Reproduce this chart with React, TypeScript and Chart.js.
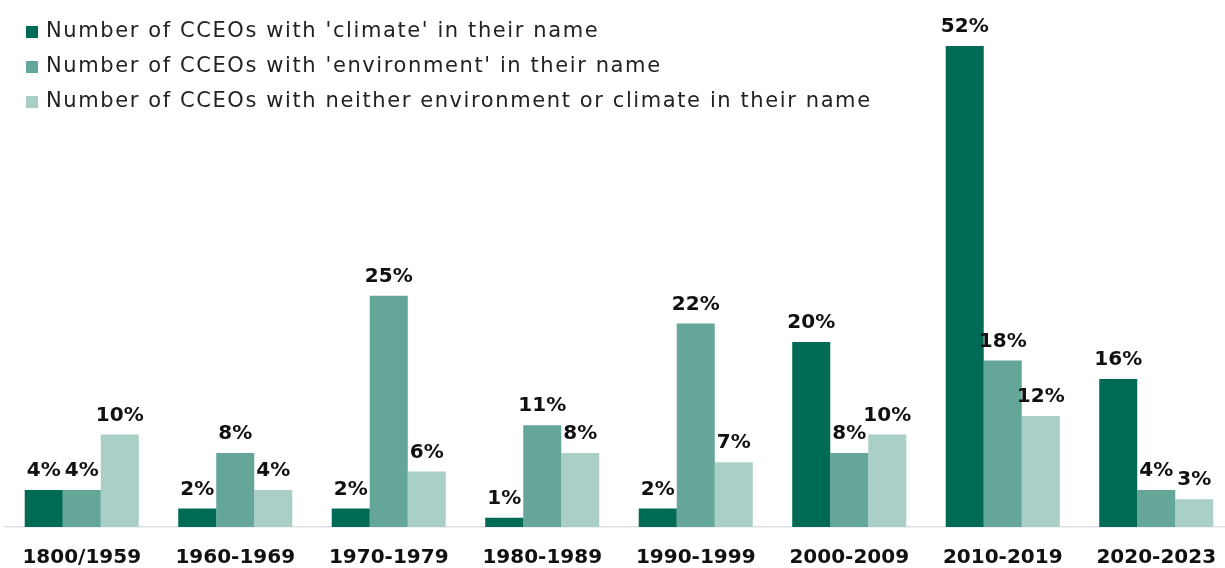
import React, { useEffect, useRef } from "react";
import { Chart, registerables } from "chart.js";

Chart.register(...registerables);

const periods = [
  "1800/1959",
  "1960-1969",
  "1970-1979",
  "1980-1989",
  "1990-1999",
  "2000-2009",
  "2010-2019",
  "2020-2023",
];

const climateShare = [4, 2, 2, 1, 2, 20, 52, 16];
const environmentShare = [4, 8, 25, 11, 22, 8, 18, 4];
const neitherShare = [10, 4, 6, 8, 7, 10, 12, 3];

const seriesNames = [
  "Number of CCEOs with 'climate' in their name",
  "Number of CCEOs with 'environment' in their name",
  "Number of CCEOs with neither environment or climate in their name",
];

const seriesColors = ["#006b54", "#64a698", "#a9cfc6"];

const FONT = "'DejaVu Sans', sans-serif";

// Percent labels above each bar
const valueLabels = {
  id: "valueLabels",
  afterDatasetsDraw(chart: any) {
    const ctx = chart.ctx;
    ctx.save();
    ctx.font = `bold 20px ${FONT}`;
    ctx.fillStyle = "#111111";
    ctx.textAlign = "center";
    ctx.textBaseline = "alphabetic";
    chart.data.datasets.forEach((ds: any, di: number) => {
      const meta = chart.getDatasetMeta(di);
      meta.data.forEach((bar: any, i: number) => {
        ctx.fillText(`${ds.data[i]}%`, bar.x, bar.y - 14);
      });
    });
    ctx.restore();
  },
};

// Vertical legend in the upper-left corner, overlapping the plot
const cornerLegend = {
  id: "cornerLegend",
  afterDraw(chart: any) {
    const ctx = chart.ctx;
    ctx.save();
    ctx.font = `21px ${FONT}`;
    (ctx as any).letterSpacing = "1.6px";
    ctx.textBaseline = "middle";
    ctx.textAlign = "left";
    chart.data.datasets.forEach((ds: any, di: number) => {
      const cy = 32 + di * 35;
      ctx.fillStyle = ds.backgroundColor;
      ctx.fillRect(26, cy - 6, 12, 12);
      ctx.fillStyle = "#222222";
      ctx.fillText(ds.label, 46, cy);
    });
    ctx.restore();
  },
};

export default function App() {
  const canvasRef = useRef<HTMLCanvasElement | null>(null);

  useEffect(() => {
    document.body.style.margin = "0";
    document.body.style.overflow = "hidden";
    const canvas = canvasRef.current;
    if (!canvas) return;
    const chart = new Chart(canvas, {
      type: "bar",
      data: {
        labels: periods,
        datasets: [climateShare, environmentShare, neitherShare].map((d, i) => ({
          label: seriesNames[i],
          data: d,
          backgroundColor: seriesColors[i],
          borderWidth: 0,
          categoryPercentage: 0.743,
          barPercentage: 1.0,
        })),
      },
      options: {
        responsive: false,
        animation: false,
        devicePixelRatio: 1,
        layout: { padding: { top: 46, left: 5, right: 7, bottom: 0 } },
        plugins: {
          legend: { display: false },
          tooltip: { enabled: false },
        },
        scales: {
          x: {
            grid: { display: false, drawTicks: false },
            border: { display: true, color: "#dde0e8", width: 1.5 },
            ticks: {
              padding: 19,
              color: "#111111",
              font: { family: FONT, size: 20, weight: "bold" },
              maxRotation: 0,
              autoSkip: false,
            },
            afterFit(scale: any) {
              scale.height = 41;
            },
          },
          y: {
            display: false,
            min: 0,
            max: 52,
          },
        },
      },
      plugins: [valueLabels, cornerLegend],
    });
    return () => chart.destroy();
  }, []);

  return (
    <div style={{ width: 1240, height: 568, overflow: "hidden" }}>
      <canvas ref={canvasRef} width={1240} height={568} />
    </div>
  );
}
